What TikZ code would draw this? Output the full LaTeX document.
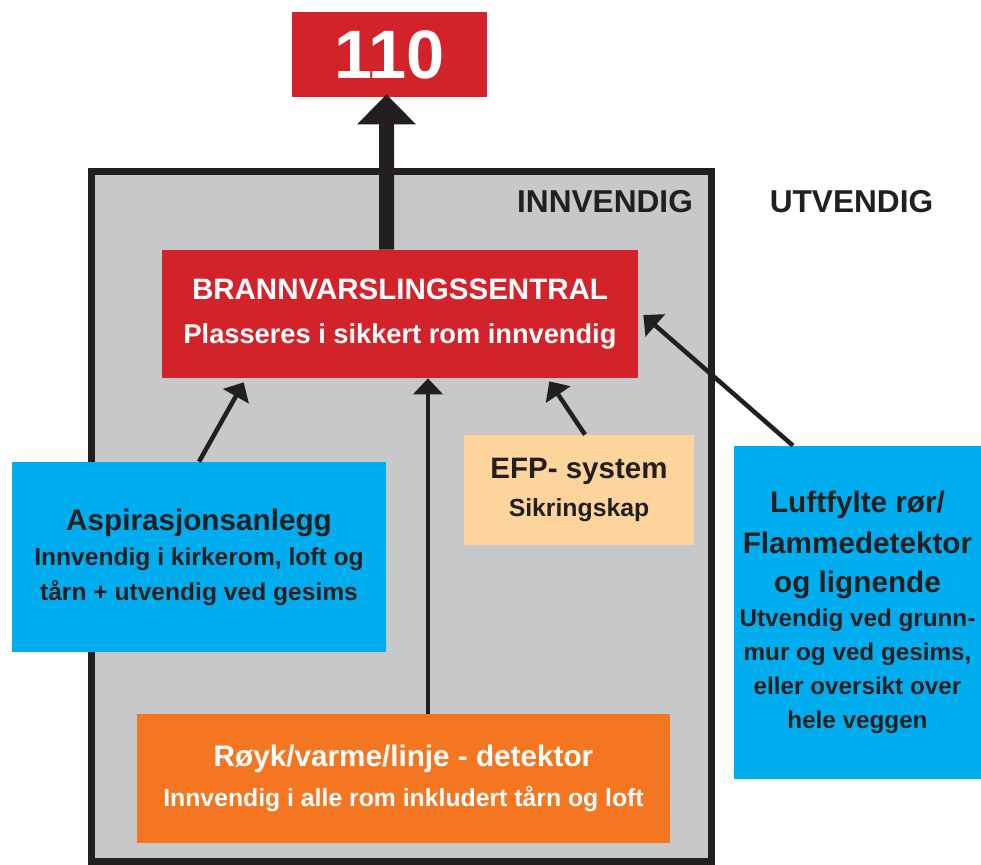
\documentclass[tikz,border=0pt]{standalone}
\usepackage{fontspec}
\setmainfont{Liberation Sans}
\usetikzlibrary{calc,arrows.meta}
\definecolor{brannrod}{HTML}{D2232A}
\definecolor{himmelblaa}{HTML}{00AEEF}
\definecolor{fersken}{HTML}{FDD49B}
\definecolor{oransje}{HTML}{F47621}
\definecolor{veggraa}{HTML}{C7C8CA}
\definecolor{svart}{HTML}{231F20}
\def\boks{\node[rectangle,inner sep=0pt,align=center]}
\def\pil{\draw[color=svart, line width=0.09cm, -{Triangle[length=0.32cm,width=0.58cm]}]}

\begin{document}
\begin{tikzpicture}[x=0.02cm,y=-0.02cm]
\useasboundingbox (0,0) rectangle (981,865);
% innvendig omraade
\draw[color=svart, fill=veggraa, line width=0.14cm] (91.5,171.5) rectangle (711.5,861);
\node[text=svart, font=\bfseries\fontsize{18}{20}\selectfont] (inn) at (605,202) {INNVENDIG};
\node[text=svart, font=\bfseries\fontsize{18}{20}\selectfont] (ut) at (851.5,202) {UTVENDIG};
% bokser
\boks[fill=brannrod, text=white, minimum width=3.9cm, minimum height=1.7cm,
  font=\bfseries\fontsize{39}{40}\selectfont] (nummer) at (389.5,54.5) {110};
\boks[fill=brannrod, text=white, minimum width=9.52cm, minimum height=2.56cm,
  font=\bfseries\fontsize{15.5}{25}\selectfont] (sentral) at (400,314)
  {{\fontsize{16.8}{25}\selectfont BRANNVARSLINGSSENTRAL}\\Plasseres i sikkert rom innvendig};
\boks[fill=himmelblaa, text=svart, minimum width=7.48cm, minimum height=3.8cm,
  font=\bfseries\fontsize{14}{20}\selectfont] (asp) at (199,557)
  {{\fontsize{16.9}{20}\selectfont Aspirasjonsanlegg}\\Innvendig i kirkerom, loft og\\tårn + utvendig ved gesims};
\boks[fill=fersken, text=svart, minimum width=4.6cm, minimum height=2.2cm,
  font=\bfseries\fontsize{14.1}{22}\selectfont] (efp) at (579,490)
  {{\fontsize{16.8}{22}\selectfont EFP- system}\\Sikringskap};
\boks[fill=himmelblaa, text=svart, minimum width=4.94cm, minimum height=6.66cm,
  font=\bfseries\fontsize{13.8}{19.3}\selectfont] (luft) at (857.5,612.5)
  {{\fontsize{16.9}{19.3}\selectfont Luftfylte rør/}\\[3.6pt]{\fontsize{16.9}{19.3}\selectfont Flammedetektor}\\[3.4pt]{\fontsize{16.9}{19.3}\selectfont og lignende}\\Utvendig ved grunn-\\mur og ved gesims,\\eller oversikt over\\hele veggen};
\boks[fill=oransje, text=white, minimum width=10.66cm, minimum height=2.58cm,
  font=\bfseries\fontsize{14.1}{23}\selectfont] (royk) at (403.5,778.5)
  {{\fontsize{16.9}{23}\selectfont Røyk/varme/linje - detektor}\\Innvendig i alle rom inkludert tårn og loft};
% piler
\draw[color=svart, line width=0.3cm, -{Triangle[length=0.6cm,width=1.14cm]}]
  ($(sentral.north)+(-13.5,0)$) -- ($(nummer.south)+(-3,-3)$);
\coordinate (rstart) at ($(royk.north)+(24.5,0)$);
\pil (asp.north) -- ($(sentral.south west)+(82,4)$);
\pil (rstart) -- (rstart |- sentral.south);
\pil ($(efp.north)+(6,0)$) -- ($(sentral.south east)+(-89,3)$);
\pil ($(luft.north)+(-64.5,0)$) -- ($(sentral.east)+(5,1)$);
\end{tikzpicture}
\end{document}
